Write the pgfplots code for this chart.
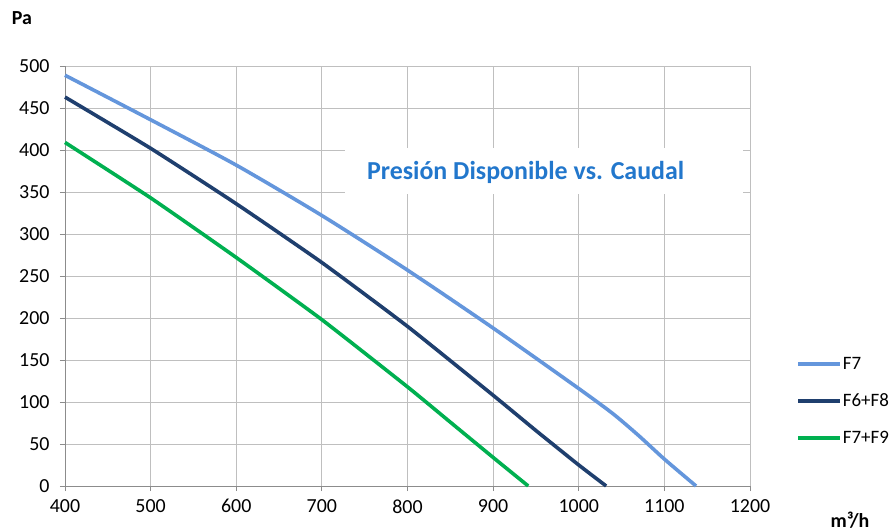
\documentclass[border=0pt]{standalone}
\usepackage{fontspec}
\setmainfont{Carlito}
\usepackage{pgfplots}
\pgfplotsset{compat=1.18}

\definecolor{cfseven}{HTML}{6496DC}
\definecolor{cfsix}{HTML}{1F3F6E}
\definecolor{cfnine}{HTML}{00B050}
\definecolor{ctitle}{HTML}{2277CC}
\definecolor{cgrid}{HTML}{BFBFBF}
\definecolor{caxis}{HTML}{8C8C8C}

\begin{document}
\begin{tikzpicture}
\useasboundingbox (-65bp,-46bp) rectangle (829bp,486bp);
\begin{axis}[
  scale only axis,
  width=685bp, height=420bp,
  xmin=400, xmax=1200, ymin=0, ymax=500,
  xtick={400,500,...,1200}, ytick={0,50,...,500},
  axis lines=left, axis line style={-, caxis, line width=0.8bp},
  grid=major, major grid style={cgrid, line width=0.8bp},
  tick align=outside, major tick length=5bp,
  tick style={caxis, line width=0.8bp},
  ticklabel style={font=\fontsize{20}{22}\selectfont},
  /pgf/number format/assume math mode=true,
  /pgf/number format/1000 sep={},
  xticklabel style={yshift=-5bp},
  yticklabel style={xshift=-7bp},
  legend style={at={(1.063,0.202)}, anchor=west, draw=none, fill=none,
    font=\fontsize{19}{22}\selectfont, row sep=19bp,
    nodes={inner xsep=1bp}},
  legend cell align=left,
  legend image code/.code={\draw[#1] (0bp,0bp) -- (42bp,0bp);},
  clip=false,
]
\addplot[cfseven, line width=3.6bp, smooth, tension=0.4] coordinates {
  (400,489) (500,436) (600,382) (700,322) (800,257) (900,188)
  (1000,116) (1040,86) (1070,60) (1100,32) (1137,0)
};
\addlegendentry{F7}
\addplot[cfsix, line width=3.6bp, smooth, tension=0.3] coordinates {
  (400,463) (500,402) (600,336) (700,266) (800,190) (900,108)
  (950,66) (1000,25) (1032,0)
};
\addlegendentry{F6+F8}
\addplot[cfnine, line width=3.6bp, smooth, tension=0.3] coordinates {
  (400,409) (500,343) (600,272) (700,198) (800,118) (850,76)
  (900,34) (941,0)
};
\addlegendentry{F7+F9}
\fill[white] (axis cs:727,402) rectangle (axis cs:1192,348);
\node[ctitle, font=\fontsize{26}{30}\selectfont\bfseries] at (axis cs:938,373) {Presión Disponible vs. Caudal};
\node[font=\fontsize{20}{22}\selectfont\bfseries] at (rel axis cs:-0.063,1.114) {Pa};
\node[font=\fontsize{20}{22}\selectfont\bfseries] at (rel axis cs:1.146,-0.081) {m³/h};
\end{axis}
\end{tikzpicture}
\end{document}
